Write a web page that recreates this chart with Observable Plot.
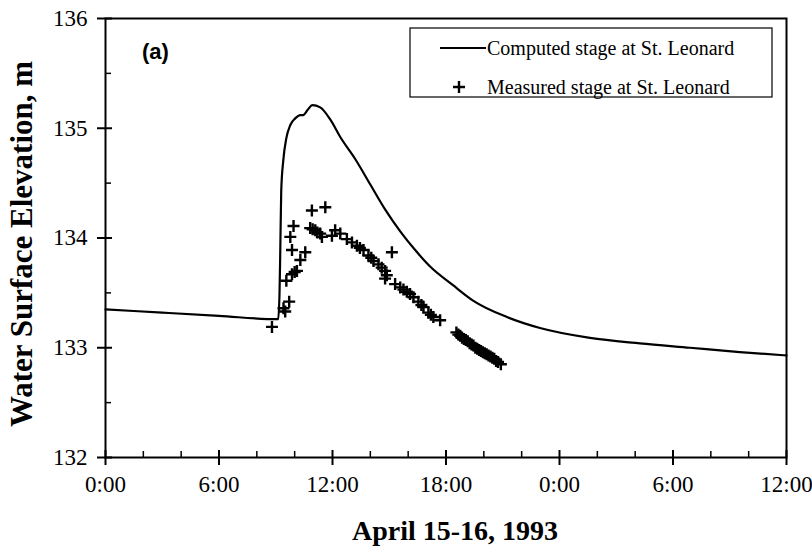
<!DOCTYPE html>
<html><head><meta charset="utf-8">
<script src="https://cdn.jsdelivr.net/npm/d3@7"></script>
<script src="https://cdn.jsdelivr.net/npm/@observablehq/plot@0.6"></script>
<style>
body{margin:0;background:#fff} svg{display:block}
svg text{font-family:"Liberation Serif","Times New Roman",serif !important;font-variant:normal !important}
svg text.sans{font-family:"Liberation Sans",Arial,sans-serif !important}
</style>
</head><body><div id="chart"></div>
<script>
// Hours since April 15, 1993 0:00
const computedHours = [0, 3, 6, 9.13, 9.2, 9.24, 9.29, 9.4, 9.56, 9.77, 10.03, 10.3, 10.45, 10.7, 10.93, 11.35, 11.88, 12.41, 13.2, 13.99, 14.78, 15.58, 16.37, 17.16, 18.37, 19.43, 21.22, 22.97, 25.61, 28.25, 30.89, 33.53, 36];
const computedStage = [133.35, 133.32, 133.29, 133.26, 133.5, 133.89, 134.43, 134.71, 134.91, 135.03, 135.09, 135.12, 135.12, 135.17, 135.21, 135.19, 135.08, 134.92, 134.72, 134.49, 134.26, 134.06, 133.89, 133.74, 133.57, 133.43, 133.28, 133.18, 133.09, 133.04, 133.0, 132.96, 132.93];

const measuredHours = [8.8, 9.41, 9.5, 9.71, 9.56, 9.86, 10.0, 10.12, 9.86, 10.3, 10.56, 9.77, 9.94, 10.91, 11.62, 10.82, 10.95, 11.09, 11.2, 11.35, 11.44, 11.97, 12.14, 12.41, 12.76, 13.03, 13.29, 13.45, 13.64, 13.9, 14.05, 14.17, 14.43, 14.6, 14.78, 14.87, 15.14, 14.78, 15.31, 15.58, 15.75, 15.93, 16.1, 16.28, 16.54, 16.7, 16.81, 17.07, 17.2, 17.33, 17.69,
  18.55, 18.65, 18.75, 18.85, 18.95, 19.05, 19.15, 19.25, 19.35, 19.45, 19.55, 19.65, 19.75, 19.85, 19.95, 20.05, 20.15, 20.25, 20.35, 20.45, 20.55, 20.65, 20.75, 20.9];
const measuredStage = [133.19, 133.36, 133.33, 133.42, 133.61, 133.67, 133.69, 133.7, 133.89, 133.8, 133.87, 134.01, 134.11, 134.25, 134.28, 134.09, 134.08, 134.07, 134.05, 134.04, 134.01, 134.02, 134.07, 134.04, 133.99, 133.96, 133.93, 133.91, 133.89, 133.84, 133.82, 133.79, 133.76, 133.73, 133.7, 133.66, 133.87, 133.63, 133.58, 133.55, 133.53, 133.51, 133.49, 133.46, 133.42, 133.39, 133.37, 133.32, 133.3, 133.28, 133.25,
  133.14, 133.12, 133.11, 133.09, 133.08, 133.07, 133.06, 133.04, 133.03, 133.02, 133.0, 132.99, 132.98, 132.97, 132.96, 132.95, 132.94, 132.93, 132.92, 132.91, 132.9, 132.88, 132.87, 132.85];

const xMajorTicks = [0, 6, 12, 18, 24, 30, 36];
const xTickLabels = ["0:00", "6:00", "12:00", "18:00", "0:00", "6:00", "12:00"];
const xMinorTicks = [2, 4, 8, 10, 14, 16, 20, 22, 26, 28, 32, 34];
const yMajorTicks = [132, 133, 134, 135, 136];
const yTickLabels = ["132", "133", "134", "135", "136"];
const yMinorTicks = [132.5, 133.5, 134.5, 135.5];

const legendLabels = ["Computed stage at St. Leonard", "Measured stage at St. Leonard"];
const panelLabel = "(a)";
const xTitle = "April 15-16, 1993";
const yTitle = "Water Surface Elevation, m";

const computed = computedHours.map((h, i) => ({h, v: computedStage[i]}));
const measured = measuredHours.map((h, i) => ({h, v: measuredStage[i]}));

const W = 812, H = 547;
const mL = 105, mR = 26, mT = 18, mB = 90;
const innerW = W - mL - mR, innerH = H - mT - mB;

const crossSymbol = {
  draw(ctx, size) {
    const r = Math.sqrt(size / Math.PI);
    ctx.moveTo(-r, 0); ctx.lineTo(r, 0);
    ctx.moveTo(0, -r); ctx.lineTo(0, r);
  }
};

const serif = "Liberation Serif";

const chart = Plot.plot({
  width: W, height: H,
  marginLeft: mL, marginRight: mR, marginTop: mT, marginBottom: mB,
  style: {fontFamily: serif, background: "#fff", color: "#000", fontVariant: "normal"},
  x: {domain: [0, 36], axis: null},
  y: {domain: [132, 136], axis: null},
  marks: [
    Plot.text(xMajorTicks, {x: (d) => d, text: (d, i) => xTickLabels[i], frameAnchor: "bottom", dy: 34, fontSize: 23, fontFamily: serif, fill: "#000"}),
    Plot.text(yMajorTicks, {y: (d) => d, text: (d, i) => yTickLabels[i], frameAnchor: "left", textAnchor: "end", dx: -18, fontSize: 23, fontFamily: serif, fill: "#000"}),
    Plot.tickX(xMajorTicks, {x: (d) => d, insetTop: innerH - 7, insetBottom: -8, stroke: "#000", strokeWidth: 2}),
    Plot.tickX(xMinorTicks, {x: (d) => d, insetTop: innerH - 6, stroke: "#000", strokeWidth: 1.5}),
    Plot.tickY(yMajorTicks, {y: (d) => d, insetRight: innerW - 7, insetLeft: -8, stroke: "#000", strokeWidth: 2}),
    Plot.tickY(yMinorTicks, {y: (d) => d, insetRight: innerW - 6, stroke: "#000", strokeWidth: 1.5}),
    Plot.frame({stroke: "#000", strokeWidth: 2}),
    Plot.line(computed, {x: "h", y: "v", stroke: "#000", strokeWidth: 2.2, curve: "monotone-x"}),
    Plot.dot(measured, {x: "h", y: "v", symbol: crossSymbol, r: 6, stroke: "#000", fill: "none", strokeWidth: 2.4})
  ]
});

const svg = d3.select(chart);

// panel label
svg.append("text").attr("class", "sans").attr("x", 142).attr("y", 59).attr("text-anchor", "start")
  .attr("font-family", "Liberation Sans").attr("font-weight", "bold")
  .attr("font-size", 22).attr("fill", "#000").text(panelLabel);

// legend
const lg = svg.append("g");
lg.append("rect").attr("x", 410).attr("y", 28).attr("width", 362).attr("height", 69)
  .attr("fill", "#fff").attr("stroke", "#000").attr("stroke-width", 1.2);
lg.append("line").attr("x1", 440).attr("x2", 486).attr("y1", 48).attr("y2", 48)
  .attr("stroke", "#000").attr("stroke-width", 2.2);
lg.append("path").attr("d", "M453,87H465M459,81V93").attr("stroke", "#000").attr("stroke-width", 2.4);
lg.selectAll("text.lab").data(legendLabels).join("text").attr("class", "lab")
  .attr("x", 487).attr("y", (d, i) => i === 0 ? 55 : 94).attr("text-anchor", "start")
  .attr("font-family", serif).attr("font-size", 20).attr("fill", "#000").text((d) => d);

// axis titles
svg.append("text").attr("x", 455).attr("y", 540).attr("text-anchor", "middle")
  .attr("font-family", serif).attr("font-weight", "bold").attr("font-size", 28).attr("fill", "#000").text(xTitle);
svg.append("text").attr("transform", "translate(32,244) rotate(-90)").attr("text-anchor", "middle")
  .attr("font-family", serif).attr("font-weight", "bold").attr("font-size", 31).attr("fill", "#000").text(yTitle);

document.getElementById("chart").appendChild(chart);
</script>
</body></html>
